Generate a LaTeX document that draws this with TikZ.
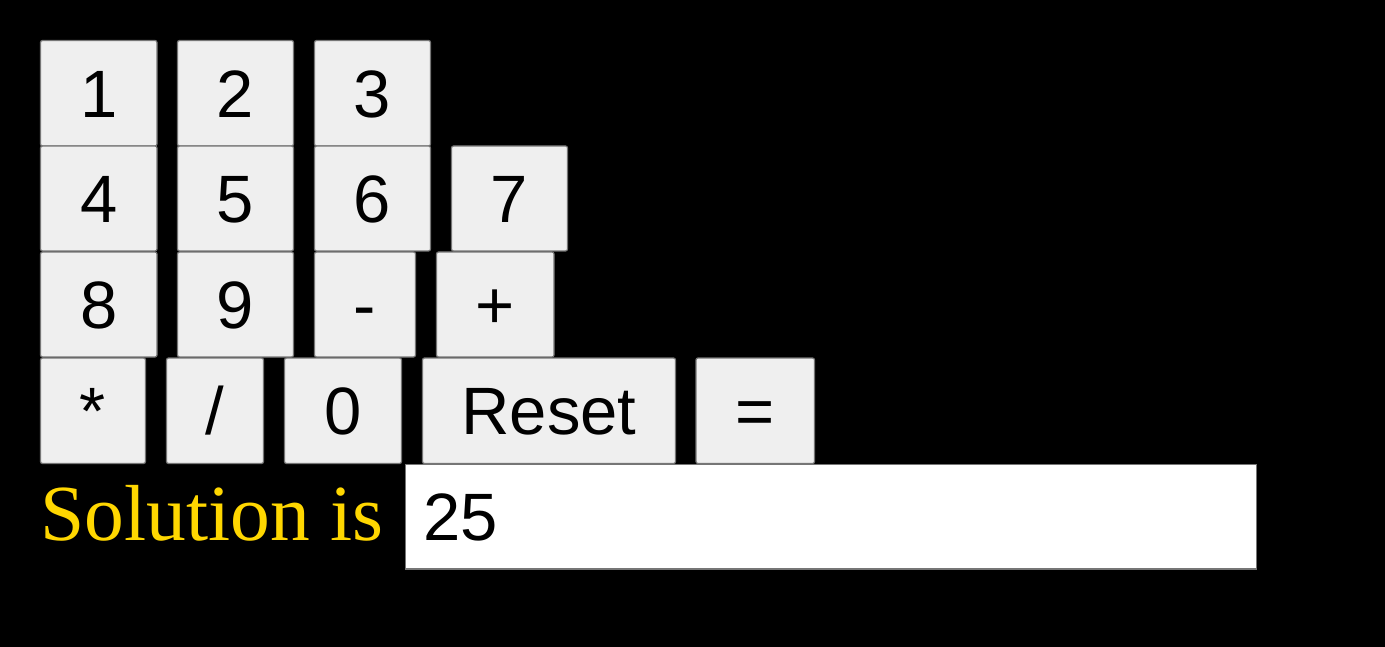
\documentclass[tikz,border=0pt]{standalone}
\usepackage{fontspec}
\newfontfamily\keyfont{Liberation Sans}
\newfontfamily\solfont{Liberation Serif}
\definecolor{keyfill}{HTML}{EFEFEF}
\definecolor{keyedge}{HTML}{767676}
\definecolor{solgold}{HTML}{FFD700}

\begin{document}
\begin{tikzpicture}[x=1pt,y=-1pt,
	key/.style={draw=keyedge,fill=keyfill,line width=1.2pt,rounded corners=2pt,inner sep=0pt,
		text height=48pt,text depth=0pt,font=\keyfont\fontsize{67}{80}\selectfont},
	display/.style={draw=keyedge,fill=white,line width=1.2pt,inner xsep=18pt,inner ysep=0pt,
		text height=48pt,text depth=0pt,align=left,font=\keyfont\fontsize{67}{80}\selectfont}]
	%========
	%Page
	%========
	\fill[black] (0,0) rectangle (1385,647);

	%========
	%Keys
	%========
	\node[key,minimum width=116.5pt,minimum height=105.5pt] (k1) at (98.75,93.25) {1};	%Row 1
	\node[key,minimum width=116pt,minimum height=105.5pt] (k2) at (235.5,93.25) {2};
	\node[key,minimum width=116pt,minimum height=105.5pt] (k3) at (372.5,93.25) {3};

	\node[key,minimum width=116.5pt,minimum height=105pt] (k4) at (98.75,198.5) {4};	%Row 2
	\node[key,minimum width=116pt,minimum height=105pt] (k5) at (235.5,198.5) {5};
	\node[key,minimum width=116pt,minimum height=105pt] (k6) at (372.5,198.5) {6};
	\node[key,minimum width=116pt,minimum height=105pt] (k7) at (509.5,198.5) {7};

	\node[key,minimum width=116.5pt,minimum height=105pt] (k8) at (98.75,304.5) {8};	%Row 3
	\node[key,minimum width=116pt,minimum height=105pt] (k9) at (235.5,304.5) {9};
	\node[key,minimum width=101pt,minimum height=105pt] (kminus) at (365,304.5) {-};
	\node[key,minimum width=117.5pt,minimum height=105pt] (kplus) at (495.25,304.5) {+};

	\node[key,minimum width=105pt,minimum height=105.5pt] (ktimes) at (93,410.75) {*};	%Row 4
	\node[key,minimum width=97pt,minimum height=105.5pt] (kdiv) at (215,410.75) {/};
	\node[key,minimum width=117pt,minimum height=105.5pt] (k0) at (343,410.75) {0};
	\node[key,minimum width=253pt,minimum height=105.5pt] (kreset) at (549,410.75) {Reset};
	\node[key,minimum width=118.5pt,minimum height=105.5pt] (kequal) at (755.25,410.75) {=};

	%========
	%Output
	%========
	\node[display,text width=815pt,minimum height=104.5pt] (disp) at (831,516.75) {25};
	\node[anchor=base west,inner sep=0pt,text=solgold,font=\solfont\fontsize{79.5}{94}\selectfont]
		(sol) at (40.5,540.75) {Solution is};
\end{tikzpicture}
\end{document}
